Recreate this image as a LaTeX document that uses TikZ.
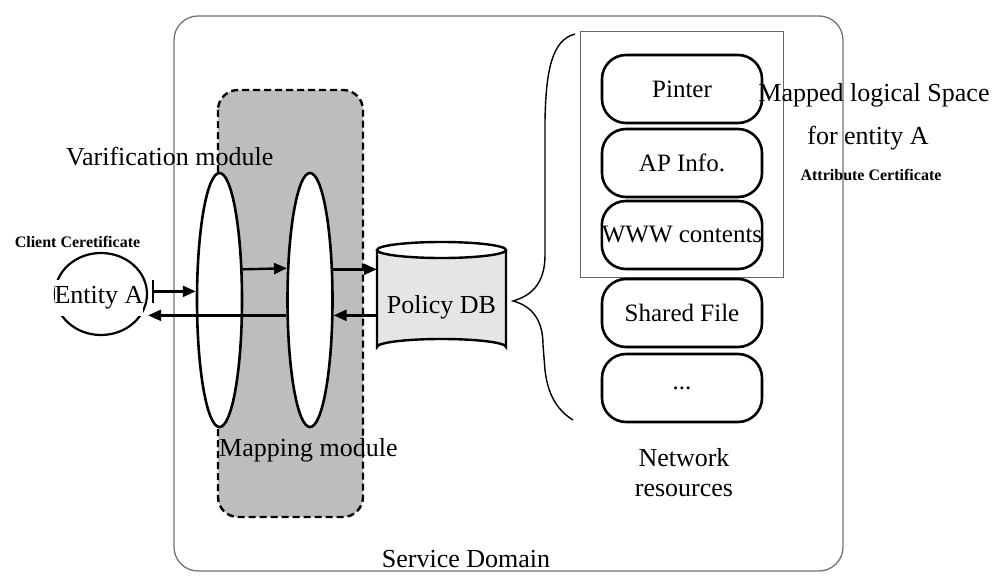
\documentclass[tikz,border=0pt]{standalone}
\usepackage{fontspec}
\setmainfont{Liberation Serif}
\usetikzlibrary{shapes.geometric,arrows.meta}
\begin{document}
\begin{tikzpicture}[x=1pt,y=-1pt,
  arr/.style={line width=2.4pt,-{Triangle[length=13pt,width=11pt]}},
  oval/.style={ellipse,draw,fill=white,line width=2.6pt,minimum width=45pt,minimum height=254pt,inner sep=0pt},
  res/.style={draw,rounded corners=24pt,line width=2.6pt,minimum width=160pt,minimum height=68pt,inner sep=0pt,font=\fontsize{25}{28}\selectfont},
  big/.style={font=\fontsize{26}{30}\selectfont,inner sep=0pt},
  small/.style={font=\fontsize{16}{18}\selectfont\bfseries,inner sep=0pt}]
\useasboundingbox (0,0) rectangle (992,575);
% service domain
\draw[black!55,line width=1.3pt,rounded corners=24pt] (174,16) rectangle (843,571);
% mapping module area
\draw[dash pattern=on 7pt off 4pt,line width=2.4pt,fill=black!26,rounded corners=20pt] (218,90) rectangle (363,517);
% mapped logical space frame
\draw[black!60,line width=1pt] (580,32) rectangle (783,277);
% ovals
\node[oval] (ellL) at (219.5,300) {};
\node[oval] (ellR) at (310,300) {};
% entity A
\node[ellipse,draw,line width=2.2pt,minimum width=92pt,minimum height=82pt,inner sep=0pt] (ent) at (101,294) {};
\node[big,fill=white,inner ysep=7pt] (entlbl) at (99,298) {Entity A};
% policy DB cylinder
\path[fill=black!10] (377,250) -- (377,347) arc[start angle=180,end angle=0,x radius=64.5pt,y radius=8pt] -- (506,250) arc[start angle=0,end angle=-180,x radius=64.5pt,y radius=8pt] -- cycle;
\draw[line width=2.4pt] (377,250) -- (377,347) arc[start angle=180,end angle=0,x radius=64.5pt,y radius=8pt] -- (506,250);
\draw[line width=2.4pt] (441.5,250) ellipse[x radius=64.5pt,y radius=8pt];
\node[big,minimum width=129pt] (db) at (441.5,307) {Policy DB};
% resources
\node[res] (r1) at (682,89) {Pinter};
\node[res] (r2) at (682,163) {AP Info.};
\node[res] (r3) at (682,235) {WWW contents};
\node[res] (r4) at (682,313) {Shared File};
\node[res] (r5) at (682,388) {...};
% brace
\draw[line width=1.4pt] (575,34) .. controls (552,40) and (546,70) .. (545,120)
  -- (545,255) .. controls (545,285) and (530,296) .. (513,301)
  .. controls (532,306) and (543,320) .. (543,345)
  -- (545,370) .. controls (548,398) and (560,412) .. (573,420);
% arrows
\draw[line width=2.4pt,{Bar[width=23pt,line width=1.6pt]}-{Triangle[length=13pt,width=11pt]}] ([xshift=4pt]ent.east |- ellL.160.4) -- (ellL.160.4);
\draw[arr] (ellL.53.9) -- (ellR.126.1);
\draw[arr] (ellR.53.9) -- (db.west |- ellR.53.9);
\draw[arr] (db.west |- ellR.-33.9) -- (ellR.-33.9);
\draw[arr] (ellR.213.9) -- (ent.east |- ellR.213.9);
% labels
\node[big,anchor=west] (lver) at (66,157) {Varification module};
\node[big,anchor=west] (lmap) at (219,450) {Mapping module};
\node[small] (lcc) at (77.5,242) {Client Ceretificate};
\node[big] (lmls) at (874,95) {Mapped logical Space};
\node[big] (lfor) at (868,138) {for entity A};
\node[small] (lac) at (871,175) {Attribute Certificate};
\node[big] (lnet) at (684,458) {Network};
\node[big] (lres) at (684,490) {resources};
\node[big] (lsd) at (466,559) {Service Domain};
\end{tikzpicture}
\end{document}
